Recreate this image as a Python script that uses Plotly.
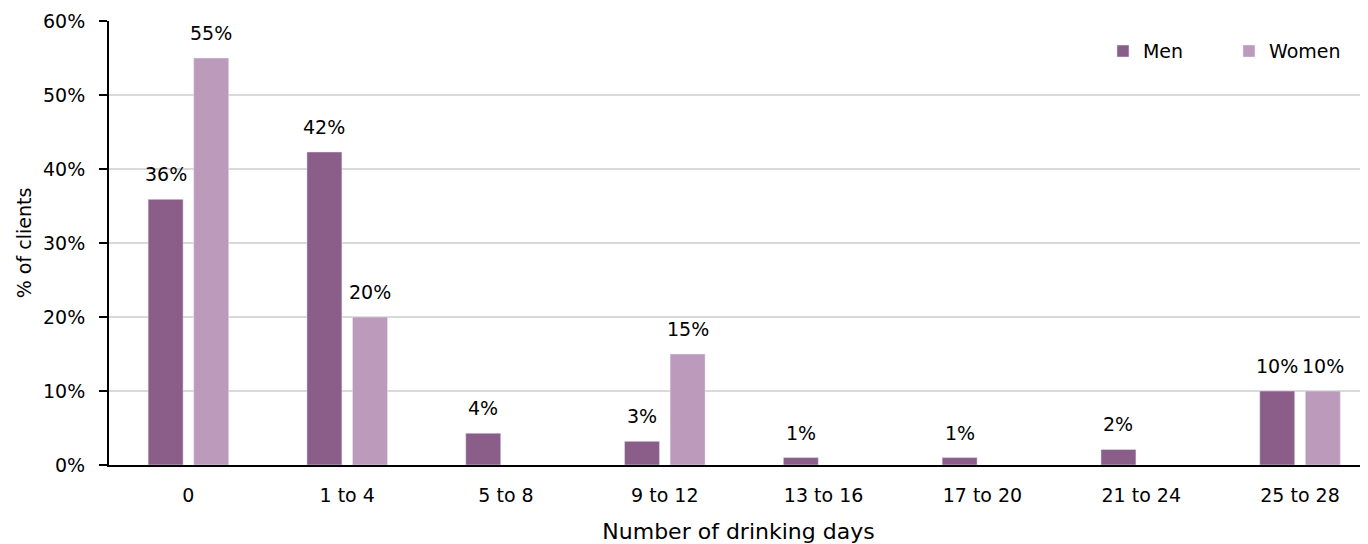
import plotly.graph_objects as go

categories = ["0", "1 to 4", "5 to 8", "9 to 12", "13 to 16", "17 to 20", "21 to 24", "25 to 28"]
men = [0.359, 0.423, 0.043, 0.032, 0.010, 0.010, 0.021, 0.100]
women = [0.550, 0.200, None, 0.150, None, None, None, 0.100]

men_color = "#8B5E8A"
women_color = "#BC9ABB"
font_family = "'DejaVu Sans', sans-serif"

# page body has an 8px default margin, so the figure is offset by 8px
W, H = 1360, 536
ML, MR, MT, MB = 101, 0, 13, 79
BARGAP = 0.426
X_RANGE = [-0.5, 7.428]  # the reference crops the right edge of the last category
plot_w = W - ML - MR
cat_w = plot_w / (X_RANGE[1] - X_RANGE[0])
slot = (1 - BARGAP) * cat_w / 2

fig = go.Figure()
fig.add_trace(go.Bar(name="Men", x=categories, y=men, marker_color=men_color))
fig.add_trace(go.Bar(name="Women", x=categories, y=women, marker_color=women_color))

annotations = []
for vals, sign in ((men, -1), (women, 1)):
    for cat, v in zip(categories, vals):
        if v is None:
            continue
        annotations.append(dict(
            x=cat, y=v, xref="x", yref="y", text=f"{round(v * 100):.0f}%",
            showarrow=False, xshift=sign * slot / 2, yshift=25,
            xanchor="center", yanchor="middle",
            font=dict(size=19, color="#000000", family=font_family),
        ))

fig.update_layout(
    width=W, height=H,
    margin=dict(l=ML, r=MR, t=MT, b=MB, autoexpand=False),
    plot_bgcolor="white", paper_bgcolor="white",
    font=dict(family=font_family, size=19, color="#000000"),
    barmode="group", bargap=BARGAP, bargroupgap=0.232,
    showlegend=True,
    annotations=annotations,
    legend=dict(
        orientation="h", x=0.7895, y=0.932, xanchor="left", yanchor="middle",
        entrywidth=81, entrywidthmode="pixels",
        font=dict(size=19), bgcolor="rgba(0,0,0,0)",
    ),
    xaxis=dict(
        title=dict(text="Number of drinking days", standoff=23, font=dict(size=22)),
        range=X_RANGE,
        showline=True, linecolor="#000000", linewidth=2,
        ticks="", showgrid=False, tickfont=dict(size=19),
        ticklabelstandoff=12,
    ),
    yaxis=dict(
        title=dict(text="% of clients", standoff=6, font=dict(size=19)),
        range=[0, 0.6], dtick=0.1, tickformat=".0%",
        showline=True, linecolor="#000000", linewidth=2,
        ticks="outside", ticklen=8, tickcolor="#000000", tickwidth=2,
        ticklabelstandoff=10,
        showgrid=True, gridcolor="#D9D9D9", gridwidth=2,
        zeroline=False, tickfont=dict(size=19),
    ),
)

fig.write_html("out.html")
